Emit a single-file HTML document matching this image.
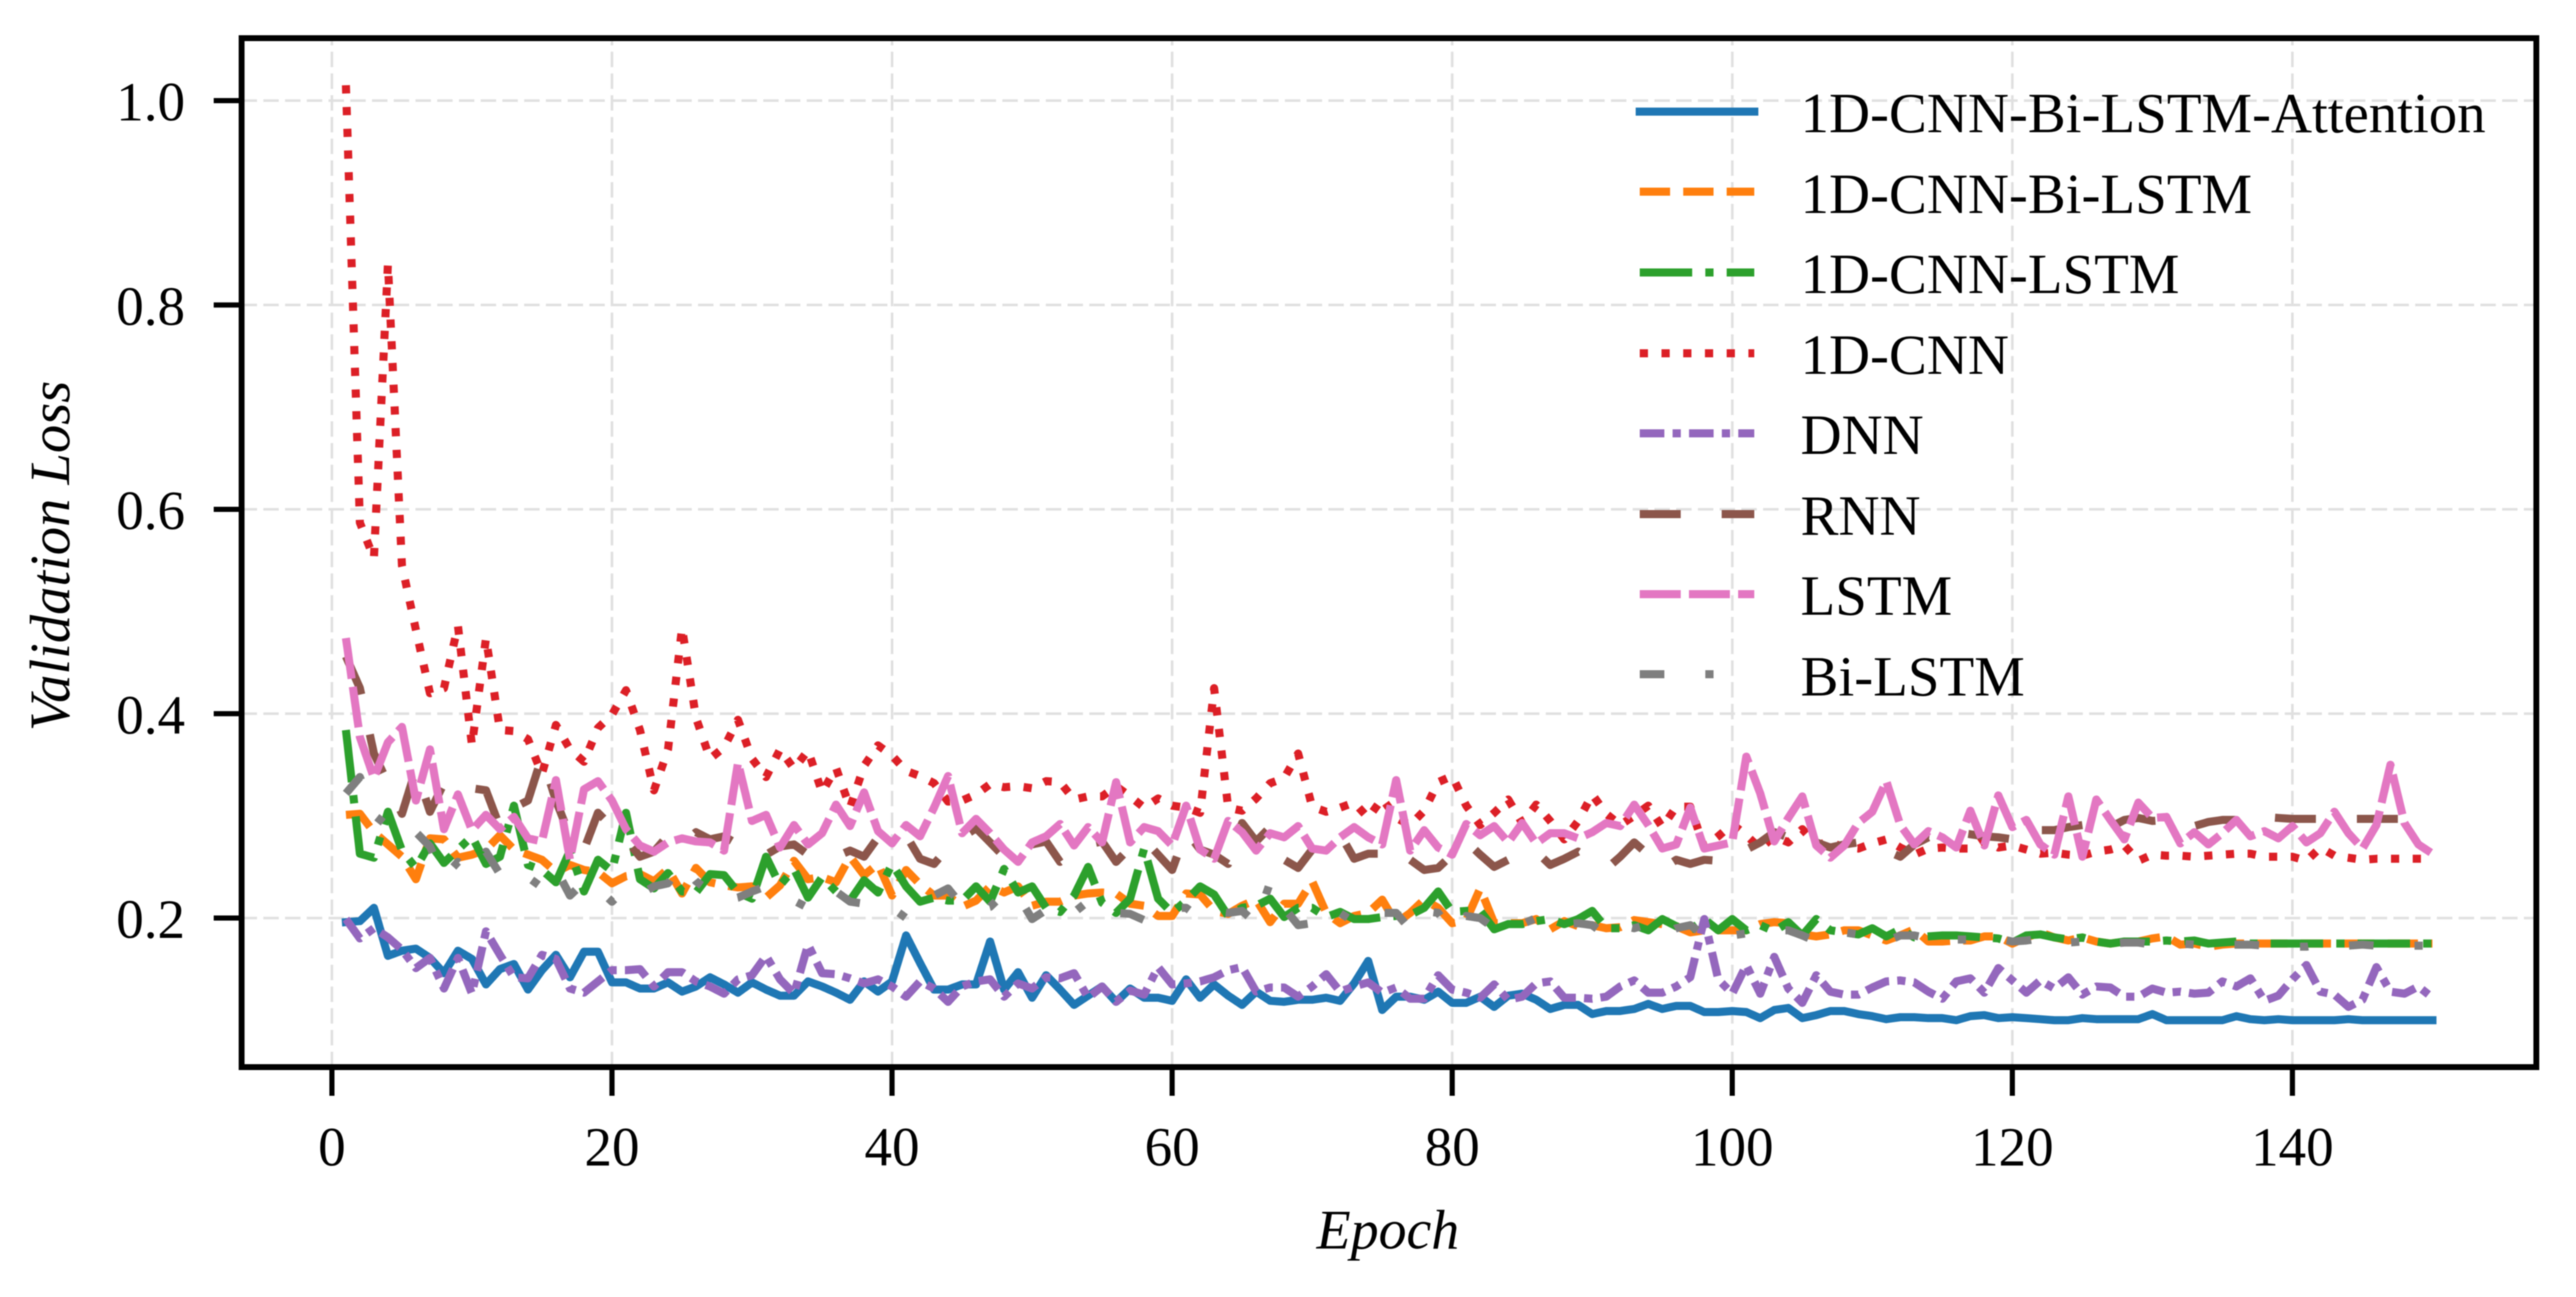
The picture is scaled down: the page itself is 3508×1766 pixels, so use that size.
<!DOCTYPE html>
<html lang="en">
<head>
<meta charset="utf-8">
<title>Validation Loss per Epoch</title>
<style>
html,body{margin:0;padding:0;background:#fff;}
svg{display:block;filter:blur(0.8px);}
text{font-family:"Liberation Serif","Times New Roman",serif;fill:#000;}
</style>
</head>
<body>
<svg id="chart" xmlns="http://www.w3.org/2000/svg" width="3508" height="1766" viewBox="0 0 3508 1766">
  <rect x="0" y="0" width="3508" height="1766" fill="#fff"/>
  <g id="grid"></g>
  <g id="series"></g>
  <g id="ticks"></g>
  <rect x="329" y="52" width="3125" height="1401" fill="none" stroke="#000" stroke-width="8"/>
  <text x="1890" y="1700" font-size="76" font-style="italic" text-anchor="middle">Epoch</text>
  <text x="0" y="0" transform="translate(94 757) rotate(-90)" font-size="77" font-style="italic" text-anchor="middle">Validation Loss</text>
  <g>
    <g>
      <line x1="2233" y1="152" x2="2389" y2="152" stroke="#1f77b4" stroke-width="11" stroke-linecap="square"/>
      <text x="2452" y="180" font-size="77.4">1D-CNN-Bi-LSTM-Attention</text>
    </g>
    <g>
      <line x1="2233" y1="261" x2="2389" y2="261" stroke="#ff7f0e" stroke-width="11" stroke-dasharray="41.3 17.9"/>
      <text x="2452" y="290" font-size="77.4">1D-CNN-Bi-LSTM</text>
    </g>
    <g>
      <line x1="2233" y1="371" x2="2389" y2="371" stroke="#2ca02c" stroke-width="11" stroke-dasharray="71.4 17.9 11.2 17.9"/>
      <text x="2452" y="399" font-size="77.4">1D-CNN-LSTM</text>
    </g>
    <g>
      <line x1="2233" y1="481" x2="2389" y2="481" stroke="#dc1f26" stroke-width="11" stroke-dasharray="11.2 18.4"/>
      <text x="2452" y="509" font-size="77.4">1D-CNN</text>
    </g>
    <g>
      <line x1="2233" y1="590" x2="2389" y2="590" stroke="#9467bd" stroke-width="11" stroke-dasharray="33.5 11.2 11.2 11.2"/>
      <text x="2452" y="618" font-size="77.4">DNN</text>
    </g>
    <g>
      <line x1="2233" y1="700" x2="2389" y2="700" stroke="#8c564b" stroke-width="11" stroke-dasharray="55.8 55.8"/>
      <text x="2452" y="728" font-size="77.4">RNN</text>
    </g>
    <g>
      <line x1="2233" y1="809" x2="2389" y2="809" stroke="#e377c2" stroke-width="11" stroke-dasharray="55.8 11.2"/>
      <text x="2452" y="837" font-size="77.4">LSTM</text>
    </g>
    <g>
      <line x1="2233" y1="918" x2="2389" y2="918" stroke="#7f7f7f" stroke-width="11" stroke-dasharray="33.5 55.8 11.2 55.8"/>
      <text x="2452" y="947" font-size="77.4">Bi-LSTM</text>
    </g>
  </g>
</svg>
<script>
const xTickLabels = [0, 20, 40, 60, 80, 100, 120, 140];
const yTickLabels = ["0.2", "0.4", "0.6", "0.8", "1.0"];
const seriesNames = ["1d-cnn-bi-lstm-attention", "1d-cnn-bi-lstm", "1d-cnn-lstm", "1d-cnn", "dnn", "rnn", "lstm", "bi-lstm"];
const seriesColors = ["#1f77b4", "#ff7f0e", "#2ca02c", "#dc1f26", "#9467bd", "#8c564b", "#e377c2", "#7f7f7f"];
const seriesDashes = ["", "41.3 17.9", "71.4 17.9 11.2 17.9", "11.2 18.4", "33.5 11.2 11.2 11.2", "55.8 55.8", "55.8 11.2", "33.5 55.8 11.2 55.8"];

const attentionLoss = [
.196,.197,.21,.163,.168,.17,.161,.146,.168,.16,
.135,.15,.155,.13,.149,.164,.142,.167,.167,.137,
.137,.131,.131,.137,.128,.133,.142,.135,.127,.137,
.13,.124,.124,.138,.133,.127,.12,.138,.128,.138,
.183,.156,.13,.13,.135,.135,.177,.13,.147,.122,
.144,.13,.115,.124,.133,.118,.131,.122,.122,.119,
.14,.122,.135,.124,.115,.128,.119,.118,.12,.12,
.122,.119,.136,.158,.11,.123,.123,.12,.128,.117,
.117,.123,.113,.124,.126,.12,.111,.115,.115,.106,
.109,.109,.111,.116,.111,.114,.114,.108,.108,.109,
.108,.102,.11,.112,.102,.105,.109,.109,.106,.104,
.101,.103,.103,.102,.102,.1,.104,.105,.102,.103,
.102,.101,.1,.1,.102,.101,.101,.101,.101,.106,
.1,.1,.1,.1,.1,.104,.101,.1,.101,.1,
.1,.1,.1,.101,.1,.1,.1,.1,.1,.1];

const cnnBiLstmLoss = [
.301,.302,.284,.272,.26,.238,.278,.277,.259,.262,
.267,.281,.267,.262,.257,.245,.252,.247,.245,.234,
.241,.243,.236,.248,.224,.249,.235,.232,.23,.231,
.22,.232,.256,.238,.24,.235,.26,.242,.253,.222,
.247,.233,.222,.222,.211,.217,.231,.225,.231,.212,
.216,.216,.222,.224,.225,.224,.214,.212,.202,.202,
.224,.223,.207,.204,.212,.218,.196,.214,.214,.236,
.205,.195,.202,.205,.218,.195,.205,.218,.21,.195,
.198,.229,.195,.195,.195,.199,.189,.197,.192,.193,
.19,.191,.198,.196,.194,.192,.186,.188,.188,.188,
.188,.194,.196,.195,.184,.182,.184,.188,.188,.183,
.178,.183,.189,.177,.177,.178,.178,.182,.182,.175,
.181,.186,.181,.178,.181,.177,.175,.177,.177,.18,
.182,.174,.175,.172,.174,.175,.175,.175,.175,.175,
.175,.175,.175,.175,.175,.175,.175,.175,.175,.175];

const cnnLstmLoss = [
.384,.263,.259,.304,.266,.249,.273,.254,.267,.28,
.253,.26,.31,.252,.247,.235,.266,.226,.257,.246,
.303,.238,.229,.244,.226,.225,.243,.242,.225,.219,
.26,.232,.248,.22,.24,.226,.217,.237,.225,.253,
.231,.216,.22,.217,.217,.231,.216,.248,.225,.231,
.21,.206,.222,.25,.215,.205,.219,.268,.219,.205,
.217,.231,.223,.202,.21,.212,.219,.201,.21,.21,
.201,.206,.199,.199,.201,.202,.203,.21,.226,.206,
.207,.207,.189,.194,.194,.197,.199,.194,.199,.207,
.19,.19,.193,.188,.199,.192,.188,.199,.188,.199,
.188,.193,.187,.196,.183,.199,.188,.186,.184,.19,
.182,.189,.181,.182,.183,.183,.182,.181,.18,.176,
.183,.184,.181,.179,.181,.177,.175,.177,.177,.177,
.178,.177,.178,.175,.176,.177,.175,.175,.175,.175,
.175,.175,.175,.175,.175,.175,.175,.175,.175,.175];

const cnnLoss = [
1.015,.587,.552,.84,.545,.482,.42,.425,.486,.369,
.474,.384,.383,.375,.341,.389,.365,.353,.386,.399,
.423,.384,.325,.365,.484,.396,.356,.367,.394,.356,
.338,.365,.346,.364,.323,.347,.308,.349,.369,.359,
.344,.339,.332,.314,.315,.321,.331,.328,.329,.327,
.334,.333,.316,.319,.319,.329,.319,.308,.317,.31,
.308,.303,.425,.308,.305,.317,.332,.337,.361,.309,
.304,.308,.313,.298,.317,.298,.291,.305,.333,.339,
.31,.291,.303,.316,.293,.311,.295,.277,.295,.321,
.302,.291,.3,.31,.289,.309,.309,.269,.28,.292,
.281,.268,.28,.274,.287,.272,.274,.269,.268,.273,
.277,.269,.262,.268,.269,.268,.268,.277,.269,.271,
.267,.263,.264,.262,.261,.265,.267,.271,.256,.262,
.261,.261,.26,.261,.262,.263,.263,.26,.26,.26,
.256,.269,.261,.259,.257,.258,.258,.258,.258,.258];

const dnnLoss = [
.199,.18,.19,.181,.169,.151,.161,.131,.161,.126,
.187,.164,.142,.141,.164,.16,.131,.127,.138,.149,
.149,.15,.133,.147,.147,.138,.133,.126,.14,.144,
.163,.14,.126,.174,.146,.145,.141,.136,.14,.133,
.123,.138,.131,.118,.133,.138,.14,.123,.136,.131,
.142,.141,.146,.122,.133,.118,.129,.125,.152,.135,
.136,.138,.142,.149,.152,.128,.132,.132,.123,.133,
.145,.128,.133,.137,.127,.132,.121,.121,.144,.13,
.127,.122,.135,.12,.123,.136,.138,.122,.122,.121,
.123,.133,.139,.127,.127,.133,.142,.199,.14,.126,
.154,.126,.162,.131,.117,.144,.128,.125,.125,.132,
.138,.139,.137,.128,.121,.138,.141,.127,.151,.139,
.127,.139,.131,.142,.125,.133,.132,.123,.123,.131,
.127,.128,.126,.127,.138,.133,.141,.119,.124,.14,
.154,.128,.125,.113,.12,.152,.128,.126,.133,.122];

const rnnLoss = [
.456,.425,.361,.332,.302,.346,.304,.332,.322,.327,
.325,.289,.308,.315,.358,.315,.28,.267,.303,.289,
.277,.26,.265,.281,.272,.284,.277,.28,.272,.263,
.262,.27,.272,.262,.26,.26,.266,.26,.279,.28,
.281,.258,.253,.269,.279,.288,.274,.26,.256,.272,
.275,.255,.265,.272,.275,.255,.269,.277,.262,.247,
.285,.267,.262,.253,.293,.275,.289,.257,.249,.267,
.275,.282,.258,.263,.263,.249,.257,.247,.249,.262,
.275,.262,.25,.257,.266,.265,.252,.258,.265,.256,
.248,.26,.274,.262,.248,.257,.253,.257,.256,.256,
.267,.274,.284,.279,.265,.274,.269,.272,.274,.269,
.266,.26,.272,.279,.277,.284,.282,.28,.279,.277,
.271,.286,.286,.289,.291,.28,.289,.296,.298,.295,
.296,.295,.29,.294,.296,.296,.293,.299,.298,.297,
.297,.297,.297,.297,.297,.297,.297,.297,.297,.297];

const lstmLoss = [
.474,.377,.337,.372,.387,.315,.365,.287,.321,.286,
.301,.287,.299,.278,.275,.335,.257,.326,.334,.315,
.287,.271,.265,.274,.278,.275,.274,.266,.352,.295,
.301,.269,.291,.272,.283,.311,.29,.323,.285,.273,
.291,.28,.308,.339,.283,.297,.283,.267,.255,.274,
.28,.292,.271,.289,.274,.333,.274,.289,.285,.271,
.31,.267,.258,.295,.284,.266,.283,.279,.29,.268,
.266,.279,.289,.279,.272,.335,.266,.286,.269,.262,
.292,.281,.29,.274,.293,.273,.283,.283,.278,.284,
.293,.29,.311,.291,.268,.272,.308,.268,.271,.274,
.358,.322,.275,.298,.319,.271,.259,.271,.293,.304,
.334,.291,.272,.285,.279,.269,.305,.271,.32,.289,
.296,.272,.262,.319,.26,.316,.296,.277,.313,.298,
.299,.273,.284,.272,.283,.296,.28,.285,.278,.29,
.274,.283,.304,.283,.268,.291,.35,.293,.272,.263];

const biLstmLoss = [
.322,.338,.301,.29,.295,.284,.27,.24,.255,.244,
.265,.243,.25,.24,.23,.248,.222,.235,.229,.216,
.229,.223,.231,.234,.253,.236,.226,.217,.22,.226,
.231,.223,.217,.21,.224,.226,.216,.214,.212,.21,
.2,.22,.222,.229,.212,.207,.211,.224,.222,.199,
.208,.217,.218,.201,.205,.205,.204,.198,.202,.21,
.21,.2,.207,.205,.207,.195,.235,.21,.193,.195,
.21,.205,.196,.205,.205,.205,.189,.207,.205,.186,
.202,.2,.19,.194,.194,.2,.195,.194,.195,.193,
.183,.193,.19,.194,.183,.19,.193,.183,.183,.183,
.185,.185,.188,.188,.183,.177,.181,.186,.184,.182,
.177,.183,.183,.18,.175,.179,.179,.179,.18,.177,
.178,.18,.175,.176,.177,.177,.175,.176,.176,.174,
.174,.175,.174,.173,.174,.174,.174,.173,.173,.172,
.172,.174,.173,.173,.174,.173,.173,.173,.173,.173];

const allSeries = [attentionLoss, cnnBiLstmLoss, cnnLstmLoss, cnnLoss, dnnLoss, rnnLoss, lstmLoss, biLstmLoss];

const NS = "http://www.w3.org/2000/svg";
const plotLeft = 329, plotRight = 3454, plotTop = 52, plotBottom = 1453;
function xAxis(epoch) { return 452 + 19.07 * epoch; }
function yAxis(value) { return 1250 - (value - 0.2) * 1391.25; }

const gridGroup = document.getElementById("grid");
const tickGroup = document.getElementById("ticks");
const seriesGroup = document.getElementById("series");

xTickLabels.forEach(function (label) {
  const x = xAxis(label);
  const grid = document.createElementNS(NS, "line");
  
  
  grid.setAttribute("x1", x); grid.setAttribute("x2", x);
  grid.setAttribute("y1", plotBottom); grid.setAttribute("y2", plotTop);
  grid.setAttribute("stroke", "#e0e0e0");
  grid.setAttribute("stroke-width", "3.5");
  grid.setAttribute("stroke-dasharray", "21 8.6");
  gridGroup.appendChild(grid);

  const tick = document.createElementNS(NS, "line");
  
  
  tick.setAttribute("x1", x); tick.setAttribute("x2", x);
  tick.setAttribute("y1", plotBottom); tick.setAttribute("y2", 1492);
  tick.setAttribute("stroke", "#000");
  tick.setAttribute("stroke-width", "7");
  tickGroup.appendChild(tick);

  const text = document.createElementNS(NS, "text");
  
  
  text.setAttribute("x", x);
  text.setAttribute("y", 1587);
  text.setAttribute("font-size", "75");
  text.setAttribute("text-anchor", "middle");
  text.textContent = label;
  tickGroup.appendChild(text);
});

yTickLabels.forEach(function (label) {
  const y = yAxis(parseFloat(label));
  const grid = document.createElementNS(NS, "line");
  
  
  grid.setAttribute("x1", plotLeft); grid.setAttribute("x2", plotRight);
  grid.setAttribute("y1", y); grid.setAttribute("y2", y);
  grid.setAttribute("stroke", "#e0e0e0");
  grid.setAttribute("stroke-width", "3.5");
  grid.setAttribute("stroke-dasharray", "21 8.6");
  gridGroup.appendChild(grid);

  const tick = document.createElementNS(NS, "line");
  
  
  tick.setAttribute("x1", 291); tick.setAttribute("x2", plotLeft);
  tick.setAttribute("y1", y); tick.setAttribute("y2", y);
  tick.setAttribute("stroke", "#000");
  tick.setAttribute("stroke-width", "7");
  tickGroup.appendChild(tick);

  const text = document.createElementNS(NS, "text");
  
  
  text.setAttribute("x", 252);
  text.setAttribute("y", y + 27);
  text.setAttribute("font-size", "75");
  text.setAttribute("text-anchor", "end");
  text.textContent = label;
  tickGroup.appendChild(text);
});

allSeries.forEach(function (values, s) {
  const points = values.map(function (v, i) {
    return xAxis(i + 1).toFixed(1) + "," + yAxis(v).toFixed(1);
  }).join(" ");
  const line = document.createElementNS(NS, "polyline");
  
  
  line.setAttribute("data-series", seriesNames[s]);
  line.setAttribute("points", points);
  line.setAttribute("fill", "none");
  line.setAttribute("stroke", seriesColors[s]);
  line.setAttribute("stroke-width", "11");
  line.setAttribute("stroke-linejoin", "round");
  line.setAttribute("stroke-linecap", s === 0 ? "square" : "butt");
  if (seriesDashes[s]) line.setAttribute("stroke-dasharray", seriesDashes[s]);
  seriesGroup.appendChild(line);
});
</script>
</body>
</html>
